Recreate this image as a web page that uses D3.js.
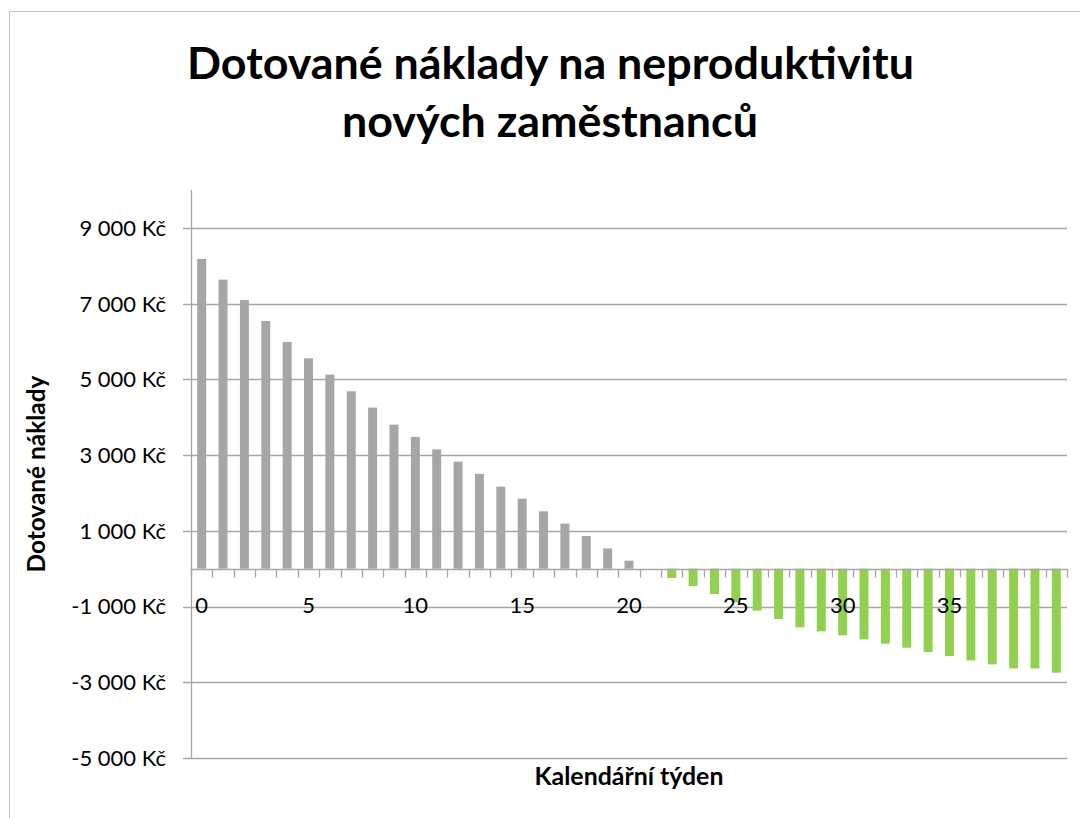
<!DOCTYPE html>
<html>
<head>
<meta charset="utf-8">
<script src="https://cdn.jsdelivr.net/npm/d3@7"></script>
<style>
  html, body { margin: 0; padding: 0; background: #ffffff; }
  svg { display: block; }
  text { font-family: Lato, "Open Sans", "DejaVu Sans", sans-serif; fill: #000; }
</style>
</head>
<body>
<svg id="chart" width="1080" height="818"></svg>
<script>
// ---- data ----
const titleLines = ["Dotované náklady na neproduktivitu", "nových zaměstnanců"];
const yAxisTitle = "Dotované náklady";
const xAxisTitle = "Kalendářní týden";
const weeks = [0,1,2,3,4,5,6,7,8,9,10,11,12,13,14,15,16,17,18,19,20,
               21,22,23,24,25,26,27,28,29,30,31,32,33,34,35,36,37,38,39,40];
const costs = [8180,7633,7097,6542,5988,5555,5124,4683,4253,3803,3480,
               3150,2826,2505,2166,1849,1514,1189,864,536,211,
               0,-246,-457,-668,-890,-1109,-1329,-1550,-1656,-1761,
               -1867,-1981,-2087,-2201,-2306,-2421,-2527,-2633,-2633,-2747];
const yTicks = [-5000,-3000,-1000,1000,3000,5000,7000,9000];
const xTickLabels = [0,5,10,15,20,25,30,35];

// ---- layout ----
const svg = d3.select("#chart");
const plot = { left: 191, right: 1067, top: 190, bottom: 758 };
const colPos = "#a6a6a6", colNeg = "#92d050", gridCol = "#a6a6a6";

const y = d3.scaleLinear().domain([-5000, 10000]).range([plot.bottom, plot.top]);
const x = d3.scaleBand().domain(weeks).range([plot.left, plot.right])
  .paddingInner(0.58).paddingOuter(0.29);

const fmt = v => {
  const s = d3.format(",")(Math.abs(v)).replace(/,/g, "\u00a0");
  return (v < 0 ? "-" : "") + s + " Kč";
};

// outer chart border
svg.append("rect").attr("x", 9.5).attr("y", 11.5).attr("width", 1200).attr("height", 1000)
  .attr("fill", "none").attr("stroke", "#c4c4c4").attr("stroke-width", 1);

// gridlines
svg.append("g").selectAll("line").data(yTicks).join("line")
  .attr("x1", plot.left - 8).attr("x2", plot.right)
  .attr("y1", d => Math.round(y(d)) + 0.5).attr("y2", d => Math.round(y(d)) + 0.5)
  .attr("stroke", gridCol).attr("stroke-width", 1.3);

// bars
svg.append("g").selectAll("rect").data(weeks.map((w, i) => ({ w, v: costs[i] }))).join("rect")
  .attr("x", d => x(d.w))
  .attr("width", x.bandwidth())
  .attr("y", d => Math.min(y(d.v), y(0)))
  .attr("height", d => Math.abs(y(d.v) - y(0)))
  .attr("fill", d => d.v >= 0 ? colPos : colNeg);

// y axis line
svg.append("line").attr("x1", plot.left + 0.5).attr("x2", plot.left + 0.5)
  .attr("y1", plot.top).attr("y2", plot.bottom + 0.5)
  .attr("stroke", gridCol).attr("stroke-width", 1.3);

// y labels
svg.append("g").selectAll("text").data(yTicks).join("text")
  .attr("x", 166).attr("y", d => y(d)).attr("dy", "0.36em")
  .attr("text-anchor", "end").style("font-size", "22px")
  .text(d => fmt(d));

// x axis (crossing at zero)
const y0 = Math.round(y(0)) + 0.5;
svg.append("line").attr("x1", plot.left).attr("x2", plot.right + 0.5)
  .attr("y1", y0).attr("y2", y0).attr("stroke", gridCol).attr("stroke-width", 1.3);
const step = x.step();
const boundaries = d3.range(weeks.length + 1).map(i => plot.left + i * step);
svg.append("g").selectAll("line").data(boundaries).join("line")
  .attr("x1", d => Math.round(d) + 0.5).attr("x2", d => Math.round(d) + 0.5)
  .attr("y1", y0).attr("y2", y0 + 8)
  .attr("stroke", gridCol).attr("stroke-width", 1.3);

svg.append("g").selectAll("text").data(xTickLabels).join("text")
  .attr("x", d => x(d) + x.bandwidth() / 2).attr("y", y0 + 43)
  .attr("text-anchor", "middle").style("font-size", "22px")
  .text(d => d);

// fit helper
function fit(sel, target, base) {
  const len = sel.node().getComputedTextLength();
  const size = base * target / len;
  sel.style("font-size", size + "px");
  return size;
}

// title
const t1 = svg.append("text").attr("x", 550.5).attr("y", 79).attr("text-anchor", "middle")
  .style("font-weight", "bold").style("font-size", "40px").text(titleLines[0]);
const tSize = fit(t1, 727, 40);
svg.append("text").attr("x", 550).attr("y", 137).attr("text-anchor", "middle")
  .style("font-weight", "bold").style("font-size", tSize + "px").text(titleLines[1]);

// axis titles
const yt = svg.append("text").attr("transform", `translate(45,${(plot.top + plot.bottom) / 2}) rotate(-90)`)
  .attr("text-anchor", "middle").style("font-weight", "bold").style("font-size", "20px")
  .text(yAxisTitle);
fit(yt, 197, 20);
const xt = svg.append("text").attr("x", (plot.left + plot.right) / 2).attr("y", 785)
  .attr("text-anchor", "middle").style("font-weight", "bold").style("font-size", "20px")
  .text(xAxisTitle);
fit(xt, 189, 20);
</script>
</body>
</html>
